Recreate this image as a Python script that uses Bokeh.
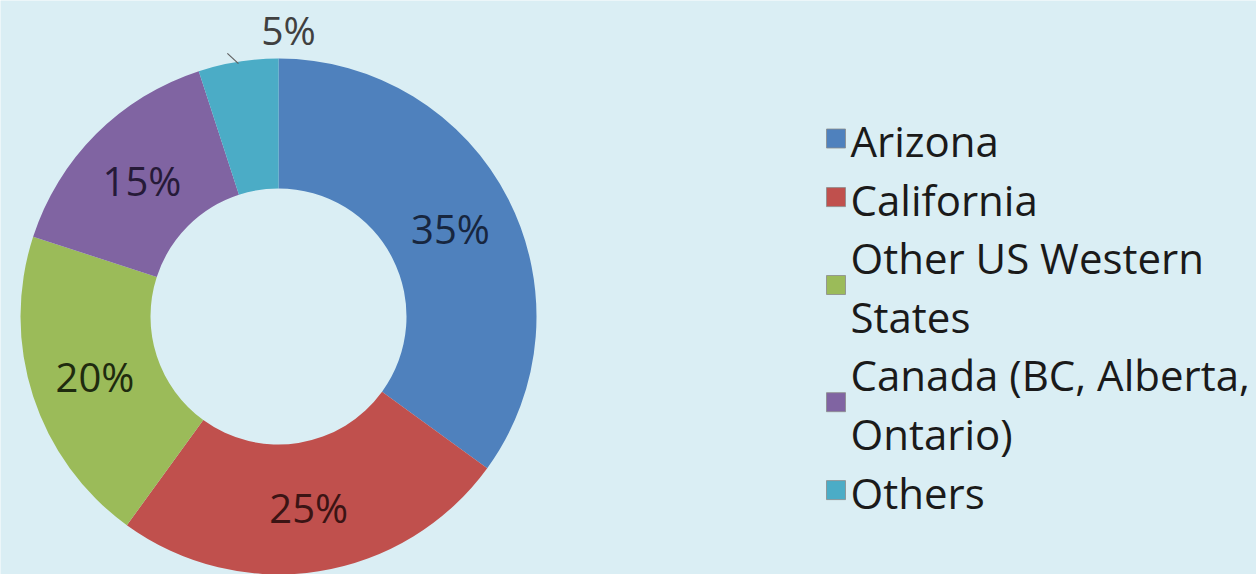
import math
import textwrap
from bokeh.plotting import figure
from bokeh.models import ColumnDataSource, Range1d
from bokeh.core.properties import value
from bokeh.embed import file_html
from bokeh.resources import INLINE

# ---- data ----
categories = ["Arizona", "California", "Other US Western States",
              "Canada (BC, Alberta, Ontario)", "Others"]
shares = [35, 25, 20, 15, 5]
colors = ["#4F81BD", "#C0504D", "#9BBB59", "#8064A2", "#4BACC6"]
label_colors = ["#17263F", "#3B1414", "#1F2B0F", "#261A38", "#404040"]

BG = "#DAEEF4"
W, H = 1256, 574
FONT = "Open Sans"

p = figure(width=W, height=H, output_backend="svg", toolbar_location=None,
           x_range=Range1d(0, W), y_range=Range1d(0, H),
           background_fill_color=BG, border_fill_color=BG,
           min_border=0, outline_line_color=None)
p.axis.visible = False
p.grid.visible = False

# screen -> data helpers
def sx(x):
    return x
def sy(y):
    return H - y

cx, cy = sx(278), sy(316)
r_out, r_in = 258, 128

total = float(sum(shares))
starts, ends, mids = [], [], []
acc = 0.0
for v in shares:
    a0 = math.pi / 2 - 2 * math.pi * acc / total
    acc += v
    a1 = math.pi / 2 - 2 * math.pi * acc / total
    starts.append(a1)
    ends.append(a0)
    mids.append((a0 + a1) / 2)

src = ColumnDataSource(dict(start=starts, end=ends, color=colors))
p.annular_wedge(x=cx, y=cy, inner_radius=r_in, outer_radius=r_out,
                start_angle="start", end_angle="end", color="color",
                line_color=None, source=src)

# data labels
r_mid = (r_in + r_out) / 2
lx, ly, lt, lc = [], [], [], []
for i, v in enumerate(shares):
    if v >= 10:
        lx.append(cx + r_mid * math.cos(mids[i]))
        ly.append(cy + r_mid * math.sin(mids[i]))
        lt.append(f"{v}%")
        lc.append(label_colors[i])
p.text(x=lx, y=ly, text=lt, text_color=lc, text_font=value(FONT),
       text_font_size="40px", text_align="center", text_baseline="middle")

# small slice: outside label with leader line
for i, v in enumerate(shares):
    if v < 10:
        a0 = mids[i]
        a1 = mids[i] + math.radians(2)
        p.segment(x0=cx + (r_out - 2) * math.cos(a0), y0=cy + (r_out - 2) * math.sin(a0),
                  x1=cx + (r_out + 10) * math.cos(a1), y1=cy + (r_out + 10) * math.sin(a1),
                  line_color="#606060", line_width=1.2)
        p.text(x=[cx + 10], y=[cy + 287], text=[f"{v}%"], text_color="#404040",
               text_font=value(FONT), text_font_size="39px",
               text_align="center", text_baseline="middle")

# legend (manual, with wrapped labels)
pitch = 58.6
base0 = 155
text_shift = 15
line_idx = 0
mk_x, mk_y, mk_c = [], [], []
tx, ty, tt = [], [], []
for i, name in enumerate(categories):
    lines = textwrap.wrap(name, width=20)
    bases = []
    for ln in lines:
        b = base0 + pitch * line_idx
        bases.append(b)
        tx.append(sx(850))
        ty.append(sy(b - text_shift))
        tt.append(ln)
        line_idx += 1
    mk_x.append(sx(835.5))
    mk_y.append(sy(sum(bases) / len(bases) - 17))
    mk_c.append(colors[i])

p.rect(x=mk_x, y=mk_y, width=19, height=19, fill_color=mk_c,
       line_color="#8a8a8a", line_width=0.8)
p.text(x=tx, y=ty, text=tt, text_color="#1a1a1a", text_font=value(FONT),
       text_font_size="42px", text_align="left", text_baseline="alphabetic")

open("out.html", "w").write(file_html(p, INLINE))
